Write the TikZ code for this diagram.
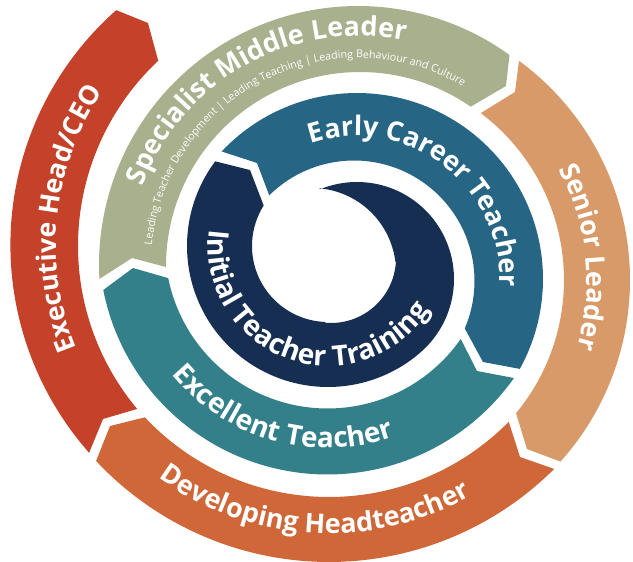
\documentclass[tikz,border=0pt]{standalone}
\usepackage{fontspec}
\setmainfont{Open Sans}
\usetikzlibrary{decorations.text}
\definecolor{cRed}{HTML}{C4412A}
\definecolor{cSage}{HTML}{A8B08E}
\definecolor{cSand}{HTML}{D89A68}
\definecolor{cRust}{HTML}{CF6739}
\definecolor{cTeal}{HTML}{34808A}
\definecolor{cBlue}{HTML}{266684}
\definecolor{cNavy}{HTML}{162E51}
\newcommand{\bandfont}[1]{\fontsize{#1}{#1}\selectfont\bfseries\color{white}}
\newcommand{\subfont}{\fontsize{10.7}{12}\selectfont\color{white}}
\tikzset{
  bandtext/.style 2 args={decorate,decoration={text along path,text align=center,text={|\bandfont{#1}|#2}}},
  subtext/.style={decorate,decoration={text along path,text align=center,text={|\subfont|#1}}}
}
\begin{document}
\begin{tikzpicture}[x=1pt,y=-1pt,samples=90]
\useasboundingbox (0,0) rectangle (633,562);
% Executive Head/CEO
\fill[cRed] plot[domain=138.5:228.5] ({324+313.6*cos(\x)},{245+313.6*sin(\x)}) -- (148,23) -- (158,60) -- plot[domain=226.9:140.1] ({332+254*cos(\x)},{246+254*sin(\x)}) -- (103,419) -- cycle;
% Specialist Middle Leader
\fill[cSage] plot[domain=176.9:305.8] ({358+259*cos(\x)},{265+259*sin(\x)}) -- (506,86) -- plot[domain=304.8:179.7] ({360+194*cos(\x)},{266+194*sin(\x)}) -- (132,258) -- cycle;
% Senior Leader
\fill[cSand] plot[domain=-53.7:41.9] ({358+272*cos(\x)},{280+272*sin(\x)}) -- (527,449) -- plot[domain=39.6:-53] ({355+209*cos(\x)},{280+209*sin(\x)}) -- (515,92) -- cycle;
% Developing Headteacher
\fill[cRust] plot[domain=45.1:136.9] ({329+319*cos(\x)},{243+319*sin(\x)}) -- (110,426) -- plot[domain=136.8:44.6] ({329+252.5*cos(\x)},{244.5+252.5*sin(\x)}) -- (520,457) -- cycle;
% Excellent Teacher
\fill[cTeal] plot[domain=35.3:168.9] ({327.5+228.5*cos(\x)},{246+228.5*sin(\x)}) -- (133,268) -- plot[domain=168.6:34.9] ({327.5+162.5*cos(\x)},{246+162.5*sin(\x)}) -- (477,371) -- cycle;
% Early Career Teacher
\fill[cBlue] plot[domain=223.3:388.9] ({357+186*cos(\x)},{279+186*sin(\x)}) -- (483,362) -- plot[domain=383.2:225.3] ({354+120.5*cos(\x)},{281+120.5*sin(\x)}) -- (257,163) -- cycle;
% Initial Teacher Training
\fill[cNavy] plot[domain=247.9:408.7] ({357+97*cos(\x)},{279+97*sin(\x)}) -- plot[domain=48.7:216.9] ({328+141*cos(\x)},{246+141*sin(\x)}) -- (250,170) -- plot[domain=212.2:92] ({328+76*cos(\x)},{246+76*sin(\x)}) -- plot[domain=95:3] ({331+65*cos(\x)},{258+65*sin(\x)}) -- plot[domain=-7:-85.2] ({312+84*cos(\x)},{272+84*sin(\x)}) -- cycle;
% labels
\path[bandtext={26.7}{Executive Head/CEO}] plot[domain=146:226] ({328+272*cos(\x)},{245+272*sin(\x)});
\path[bandtext={27}{Specialist Middle Leader}] plot[domain=190:292] ({358+229*cos(\x)},{265+229*sin(\x)});
\path[subtext={Leading Teacher Development {\textbar} Leading Teaching {\textbar} Leading Behaviour and Culture}] plot[domain=177.5:308.5] ({358+207*cos(\x)},{265+207*sin(\x)});
\path[bandtext={26.8}{Senior Leader}] plot[domain=-46:34.4] ({356+231*cos(\x)},{280+231*sin(\x)});
\path[bandtext={27}{Early Career Teacher}] plot[domain=-126:20.6] ({356+144*cos(\x)},{280+144*sin(\x)});
\path[bandtext={28.2}{Initial Teacher Training}] plot[domain=215:5] ({328+120*cos(\x)},{246+120*sin(\x)});
\path[bandtext={28}{Excellent Teacher}] plot[domain=165:46] ({327.5+202*cos(\x)},{246+202*sin(\x)});
\path[bandtext={27}{Developing Headteacher}] plot[domain=135:51.6] ({329+289*cos(\x)},{244.5+289*sin(\x)});
\end{tikzpicture}
\end{document}
